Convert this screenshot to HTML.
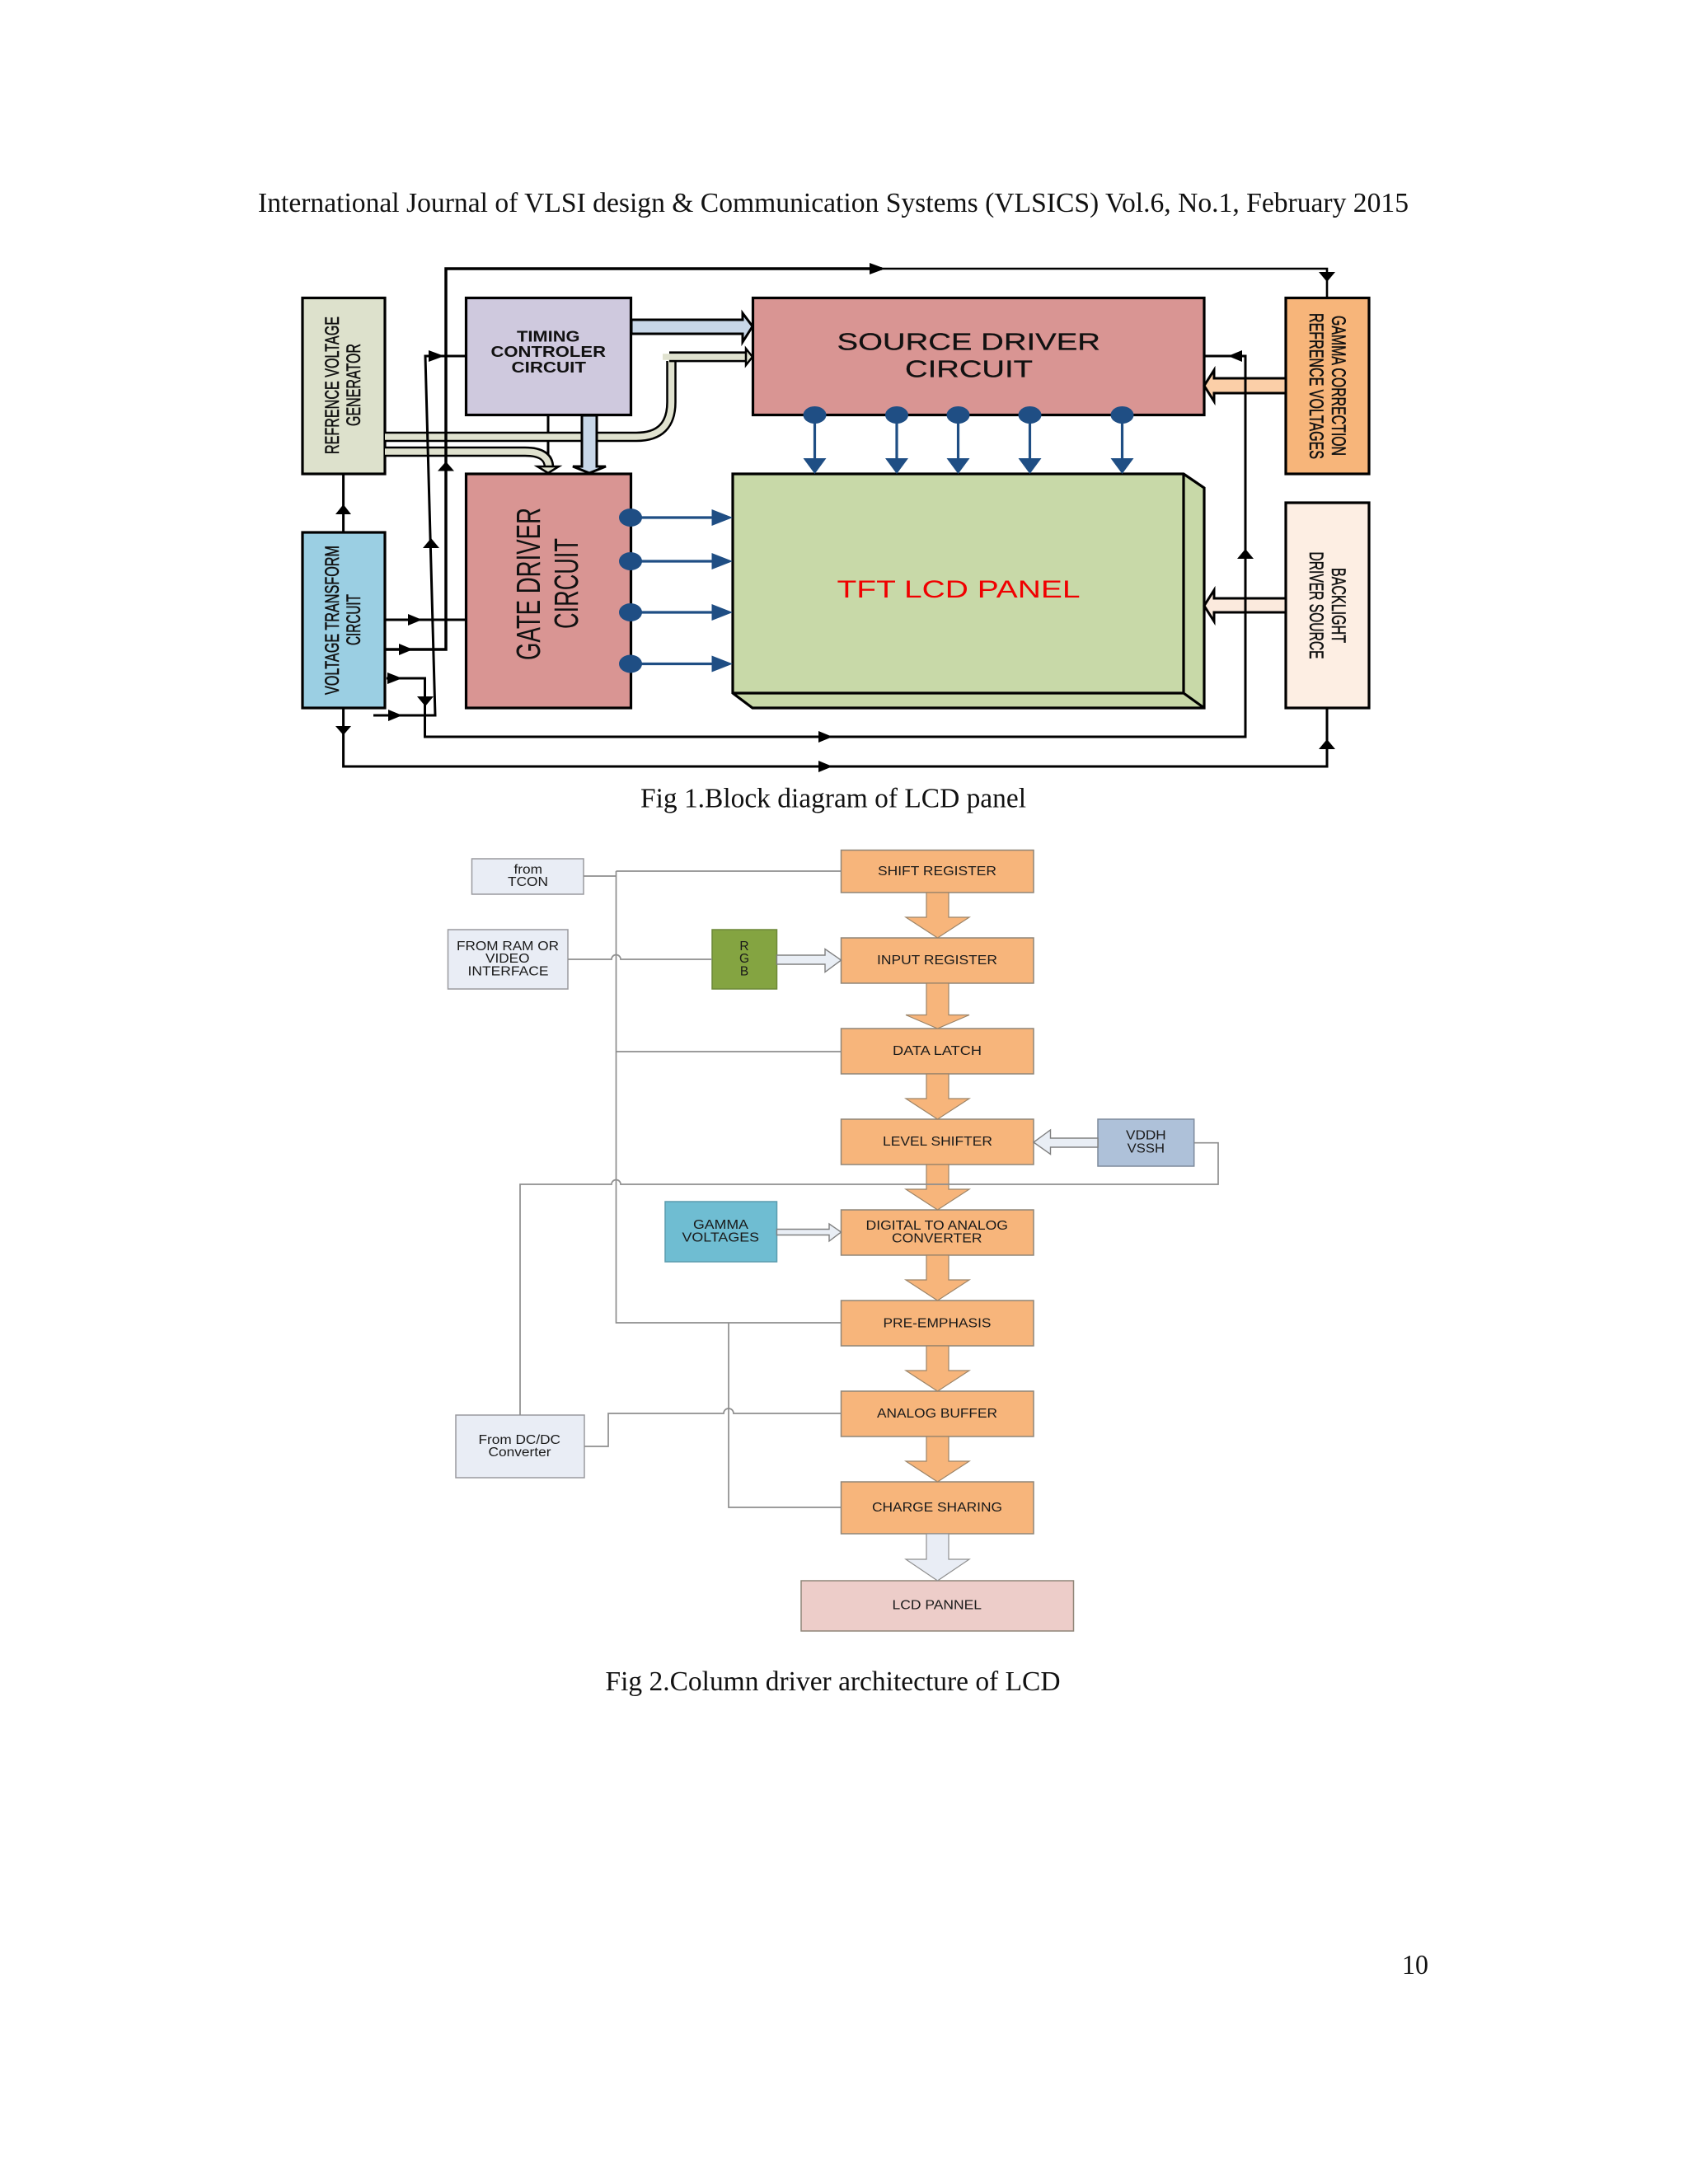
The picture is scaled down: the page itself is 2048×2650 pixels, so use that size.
<!DOCTYPE html>
<html>
<head>
<meta charset="utf-8">
<title>LCD column driver</title>
<style>
html,body{margin:0;padding:0;background:#fff}
svg{display:block}
.serif{font-family:"Liberation Serif",serif;fill:#111}
.sans{font-family:"Liberation Sans",sans-serif;fill:#111}
.rot{stroke:#111;stroke-width:.55}
.med{stroke:#111;stroke-width:.25}
.b{font-weight:bold}
.d2{font-size:15.5px;fill:#1a1a1a}
</style>
</head>
<body>
<svg width="2048" height="2650" viewBox="0 0 2048 2650" xmlns="http://www.w3.org/2000/svg">
<rect width="2048" height="2650" fill="#fff"/>

<!-- page text -->
<text class="serif" x="313" y="257" font-size="34" textLength="1396" lengthAdjust="spacingAndGlyphs">International Journal of VLSI design &amp; Communication Systems (VLSICS) Vol.6, No.1, February 2015</text>
<text class="serif" x="777" y="979.5" font-size="34" textLength="468" lengthAdjust="spacingAndGlyphs">Fig 1.Block diagram of LCD panel</text>
<text class="serif" x="734.5" y="2051" font-size="34" textLength="552" lengthAdjust="spacingAndGlyphs">Fig 2.Column driver architecture of LCD</text>
<text class="serif" x="1701" y="2395" font-size="34" textLength="32" lengthAdjust="spacingAndGlyphs">10</text>

<!-- FIG 1 boxes -->
<g stroke="#000" stroke-width="3.2">
<rect x="367" y="361.5" width="100" height="213.5" fill="#dde1cc"/>
<rect x="367" y="646" width="100" height="213" fill="#9bcfe3"/>
<rect x="565.5" y="361.5" width="200" height="142" fill="#cfc9de"/>
<rect x="913.5" y="361.5" width="547.5" height="142" fill="#d99593"/>
<rect x="565.5" y="575" width="200" height="284" fill="#d99593"/>
<rect x="1560" y="361.5" width="101" height="213.5" fill="#f7b57a"/>
<rect x="1560" y="610" width="101" height="249" fill="#fdeee3"/>
<!-- TFT panel -->
<polygon points="889,575 1436,575 1461,592 1461,859 913,859 889,841" fill="#c8d9a8"/>
<path d="M889,841 H1436 V575 M1436,841 L1461,859" fill="none"/>
</g>

<!-- thin timing-gate line -->
<path d="M665,503 V575" stroke="#000" stroke-width="3" fill="none"/>

<!-- pipes -->
<g fill="none" stroke-linejoin="miter">
<path d="M467,530 H772 Q814.5,530 814.5,488 V438" stroke="#000" stroke-width="12.5"/>
<path d="M467,530 H772 Q814.5,530 814.5,488 V433" stroke="#e0e2cf" stroke-width="7.5"/>
<path d="M812,427.8 H906 M812,438 H906" stroke="#000" stroke-width="2.8"/>
<path d="M804,433 H908" stroke="#e0e2cf" stroke-width="7.5"/>
<path d="M467,548 H637 Q666,548 666,567" stroke="#000" stroke-width="12.5"/>
<path d="M467,548 H637 Q666,548 666,568" stroke="#e0e2cf" stroke-width="7.5"/>
</g>
<polygon points="905,423 913,433 905,443" fill="#e0e2cf" stroke="#000" stroke-width="2.5"/>
<polygon points="652,566 678,566 665,574" fill="#e0e2cf" stroke="#000" stroke-width="2.5"/>

<!-- block arrows -->
<g stroke="#000" stroke-width="3">
<polygon points="766,388 901,388 901,380 913,396 901,415 901,405 766,405" fill="#c8d7e8"/>
<polygon points="706,504 724,504 724,566 735,566 715,574 695,566 706,566" fill="#c8d7e8"/>
<polygon points="1560,459 1473,459 1473,449 1461,468 1473,487 1473,477 1560,477" fill="#fbcfa8"/>
<polygon points="1560,726 1473,726 1473,716 1461,735 1473,754 1473,743 1560,743" fill="#fbeadd"/>
</g>

<!-- black connectors -->
<g fill="none" stroke="#000" stroke-width="3">
<path d="M467,788 H541 V326 H1070" stroke-width="3.5"/>
<path d="M1070,326 H1610 V361" stroke-width="2.6"/>
<path d="M565,432 H516 L528,868 H453"/>
<path d="M467,752 H565"/>
<path d="M469,823 H515.5 V894 H1511 V432 H1461"/>
<path d="M416.6,859 V930 H1610 V859"/>
<path d="M416.6,646 V575"/>
</g>
<g fill="#000">
<polygon points="1055,319 1074,326 1055,333"/>
<polygon points="1600,330 1620,330 1610,342"/>
<polygon points="531,571.5 551,571.5 541,560"/>
<polygon points="484,781 501,788 484,795"/>
<polygon points="520,425 539,432 520,439"/>
<polygon points="513,665 533,665 523,653"/>
<polygon points="471,861 488,868 471,875"/>
<polygon points="495,745 512,752 495,759"/>
<polygon points="470,816 488,823 470,830"/>
<polygon points="506,845 526,845 516,857"/>
<polygon points="993,887 1010,894 993,901"/>
<polygon points="1501,678 1521,678 1511,666"/>
<polygon points="1507,425 1490,432 1507,439"/>
<polygon points="407,881 426,881 416.6,892"/>
<polygon points="993,923 1010,930 993,937"/>
<polygon points="1600,909 1620,909 1610,897"/>
<polygon points="407,624 426,624 416.6,612"/>
</g>

<!-- blue connectors -->
<g stroke="#1f4e84" stroke-width="3.2" fill="none">
<path d="M988.5,504 V560 M1088,504 V560 M1162.5,504 V560 M1249.5,504 V560 M1361.5,504 V560"/>
<path d="M765,628 H866 M765,681 H866 M765,743 H866 M765,805.5 H866"/>
</g>
<g fill="#1f4e84">
<ellipse cx="988.5" cy="503.5" rx="14" ry="10.5"/>
<ellipse cx="1088" cy="503.5" rx="14" ry="10.5"/>
<ellipse cx="1162.5" cy="503.5" rx="14" ry="10.5"/>
<ellipse cx="1249.5" cy="503.5" rx="14" ry="10.5"/>
<ellipse cx="1361.5" cy="503.5" rx="14" ry="10.5"/>
<ellipse cx="765" cy="628" rx="14" ry="11"/>
<ellipse cx="765" cy="681" rx="14" ry="11"/>
<ellipse cx="765" cy="743" rx="14" ry="11"/>
<ellipse cx="765" cy="805.5" rx="14" ry="11"/>
<polygon points="974.5,556 1002.5,556 988.5,575"/>
<polygon points="1074,556 1102,556 1088,575"/>
<polygon points="1148.5,556 1176.5,556 1162.5,575"/>
<polygon points="1235.5,556 1263.5,556 1249.5,575"/>
<polygon points="1347.5,556 1375.5,556 1361.5,575"/>
<polygon points="863.5,618 889,628 863.5,638"/>
<polygon points="863.5,671 889,681 863.5,691"/>
<polygon points="863.5,733 889,743 863.5,753"/>
<polygon points="863.5,795.5 889,805.5 863.5,815.5"/>
</g>

<!-- FIG 1 labels -->
<g class="sans">
<g font-size="24">
<text class="rot" transform="translate(411,551) rotate(-90)" textLength="167" lengthAdjust="spacingAndGlyphs">REFRENCE VOLTAGE</text>
<text class="rot" transform="translate(437,517) rotate(-90)" textLength="100" lengthAdjust="spacingAndGlyphs">GENERATOR</text>
<text class="rot" transform="translate(411,843) rotate(-90)" textLength="181" lengthAdjust="spacingAndGlyphs">VOLTAGE TRANSFORM</text>
<text class="rot" transform="translate(437,783) rotate(-90)" textLength="62" lengthAdjust="spacingAndGlyphs">CIRCUIT</text>
<text class="rot" transform="translate(1616,383) rotate(90)" textLength="170" lengthAdjust="spacingAndGlyphs">GAMMA CORRECTION</text>
<text class="rot" transform="translate(1589,380) rotate(90)" textLength="177" lengthAdjust="spacingAndGlyphs">REFRENCE VOLTAGES</text>
<text class="rot" transform="translate(1616,689) rotate(90)" textLength="91" lengthAdjust="spacingAndGlyphs">BACKLIGHT</text>
<text class="rot" transform="translate(1589,669.5) rotate(90)" textLength="130" lengthAdjust="spacingAndGlyphs">DRIVER SOURCE</text>
</g>
<g font-size="41">
<text transform="translate(655,801) rotate(-90)" textLength="185" lengthAdjust="spacingAndGlyphs">GATE DRIVER</text>
<text transform="translate(701,763) rotate(-90)" textLength="110" lengthAdjust="spacingAndGlyphs">CIRCUIT</text>
</g>
<g class="b" font-size="18.5">
<text x="627" y="414.5" textLength="76.5" lengthAdjust="spacingAndGlyphs">TIMING</text>
<text x="595.5" y="433" textLength="139.5" lengthAdjust="spacingAndGlyphs">CONTROLER</text>
<text x="620.5" y="452" textLength="90.5" lengthAdjust="spacingAndGlyphs">CIRCUIT</text>
</g>
<g font-size="29">
<text class="med" x="1015.5" y="424.5" textLength="319.5" lengthAdjust="spacingAndGlyphs">SOURCE DRIVER</text>
<text class="med" x="1098" y="457.5" textLength="155" lengthAdjust="spacingAndGlyphs">CIRCUIT</text>
</g>
<text x="1015.5" y="725" font-size="29.5" style="fill:#f00000" textLength="295" lengthAdjust="spacingAndGlyphs">TFT LCD PANEL</text>
</g>

<!-- FIG 2 boxes -->
<g stroke="#8f8578" stroke-width="1.5">
<g fill="#f7b57b">
<rect x="1020.5" y="1031.5" width="233.5" height="51.5"/>
<rect x="1020.5" y="1138" width="233.5" height="55"/>
<rect x="1020.5" y="1248" width="233.5" height="55"/>
<rect x="1020.5" y="1358" width="233.5" height="55"/>
<rect x="1020.5" y="1468" width="233.5" height="55"/>
<rect x="1020.5" y="1578" width="233.5" height="55"/>
<rect x="1020.5" y="1688" width="233.5" height="55"/>
<rect x="1020.5" y="1798" width="233.5" height="63"/>
</g>
<rect x="972" y="1918" width="330.5" height="61" fill="#edcdc9"/>
<g fill="#e9edf5" stroke="#9a9a9f">
<rect x="572.5" y="1042" width="135.5" height="43"/>
<rect x="543.5" y="1128" width="145.5" height="72"/>
<rect x="553" y="1717" width="156" height="76"/>
</g>
<rect x="864" y="1128" width="78.5" height="72" fill="#84a441" stroke="#6d8838"/>
<rect x="807" y="1458" width="135.5" height="73" fill="#6fbdd2" stroke="#5a9cae"/>
<rect x="1332" y="1358" width="116.7" height="57" fill="#aec1d9" stroke="#7d8a9c"/>
</g>

<!-- FIG 2 down arrows -->
<g fill="#f7b57b" stroke="#9c8468" stroke-width="1.2">
<polygon points="1124,1083 1151,1083 1151,1113 1176,1113 1137.5,1138 1099,1113 1124,1113"/>
<polygon points="1124,1193 1151,1193 1151,1231.5 1176,1231.5 1137.5,1248 1099,1231.5 1124,1231.5"/>
<polygon points="1124,1303 1151,1303 1151,1333 1176,1333 1137.5,1358 1099,1333 1124,1333"/>
<polygon points="1124,1413 1151,1413 1151,1443 1176,1443 1137.5,1468 1099,1443 1124,1443"/>
<polygon points="1124,1523 1151,1523 1151,1553 1176,1553 1137.5,1578 1099,1553 1124,1553"/>
<polygon points="1124,1633 1151,1633 1151,1663 1176,1663 1137.5,1688 1099,1663 1124,1663"/>
<polygon points="1124,1743 1151,1743 1151,1773 1176,1773 1137.5,1798 1099,1773 1124,1773"/>
<polygon points="1124,1861 1151,1861 1151,1892 1176,1892 1137.5,1918 1099,1892 1124,1892" fill="#e9edf5" stroke="#8f8f8f"/>
</g>

<!-- FIG 2 side arrows -->
<g fill="#e9eef5" stroke="#808080" stroke-width="1.4">
<polygon points="942.5,1159 1001,1159 1001,1151.5 1020.5,1165 1001,1179.5 1001,1170 942.5,1170"/>
<polygon points="942.5,1491.5 1006,1491.5 1006,1485 1020.5,1495 1006,1506 1006,1498.5 942.5,1498.5"/>
<polygon points="1332,1381 1274.5,1381 1274.5,1371 1254,1386 1274.5,1400.5 1274.5,1392 1332,1392"/>
</g>

<!-- FIG 2 gray lines -->
<g fill="none" stroke="#8e8e8e" stroke-width="1.7">
<path d="M708,1063 H747.5 M747.5,1057 H1020.5 M747.5,1057 V1605 H1020.5"/>
<path d="M747.5,1276 H1020.5"/>
<path d="M689,1164 H742 A5.5,5.5 0 0 1 753,1164 H864"/>
<path d="M631,1717 V1437 H742 A5.5,5.5 0 0 1 753,1437 H1478 V1386.7 H1449"/>
<path d="M884,1605 V1829 H1020.5"/>
<path d="M709,1755 H738 V1715 H878 A6,6 0 0 1 890,1715 H1020.5"/>
</g>

<!-- FIG 2 labels -->
<g class="sans d2">
<text x="1065" y="1062" textLength="144" lengthAdjust="spacingAndGlyphs">SHIFT REGISTER</text>
<text x="1064" y="1170" textLength="146" lengthAdjust="spacingAndGlyphs">INPUT REGISTER</text>
<text x="1083" y="1280" textLength="108" lengthAdjust="spacingAndGlyphs">DATA LATCH</text>
<text x="1071" y="1390" textLength="133" lengthAdjust="spacingAndGlyphs">LEVEL SHIFTER</text>
<text x="1050.5" y="1492" textLength="172.5" lengthAdjust="spacingAndGlyphs">DIGITAL TO ANALOG</text>
<text x="1082" y="1507.5" textLength="109.5" lengthAdjust="spacingAndGlyphs">CONVERTER</text>
<text x="1071.5" y="1610.5" textLength="131" lengthAdjust="spacingAndGlyphs">PRE-EMPHASIS</text>
<text x="1064" y="1720" textLength="146" lengthAdjust="spacingAndGlyphs">ANALOG BUFFER</text>
<text x="1058" y="1834" textLength="158" lengthAdjust="spacingAndGlyphs">CHARGE SHARING</text>
<text x="1082.5" y="1952.5" textLength="108.5" lengthAdjust="spacingAndGlyphs">LCD PANNEL</text>
<text x="623.5" y="1060" textLength="34.5" lengthAdjust="spacingAndGlyphs">from</text>
<text x="616" y="1075" textLength="49" lengthAdjust="spacingAndGlyphs">TCON</text>
<text x="554" y="1153" textLength="124" lengthAdjust="spacingAndGlyphs">FROM RAM OR</text>
<text x="589" y="1168" textLength="53.5" lengthAdjust="spacingAndGlyphs">VIDEO</text>
<text x="567.5" y="1183.5" textLength="98" lengthAdjust="spacingAndGlyphs">INTERFACE</text>
<text x="903" y="1153" text-anchor="middle">R</text>
<text x="903" y="1168" text-anchor="middle">G</text>
<text x="903" y="1183.5" text-anchor="middle">B</text>
<text x="841" y="1491" textLength="67" lengthAdjust="spacingAndGlyphs">GAMMA</text>
<text x="827.5" y="1506.5" textLength="93.5" lengthAdjust="spacingAndGlyphs">VOLTAGES</text>
<text x="1366" y="1382.7" textLength="48.7" lengthAdjust="spacingAndGlyphs">VDDH</text>
<text x="1367.7" y="1398.3" textLength="45.3" lengthAdjust="spacingAndGlyphs">VSSH</text>
<text x="580.5" y="1752" textLength="99.5" lengthAdjust="spacingAndGlyphs">From DC/DC</text>
<text x="592.5" y="1767" textLength="76" lengthAdjust="spacingAndGlyphs">Converter</text>
</g>
</svg>
</body>
</html>
